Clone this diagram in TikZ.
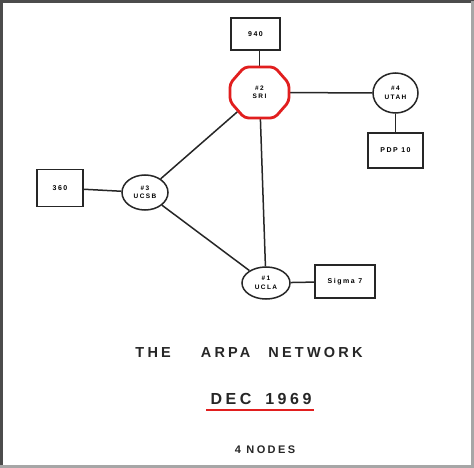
\documentclass[tikz,border=0pt]{standalone}
\usepackage{fontspec}
\newfontfamily\hand[LetterSpace=22]{Liberation Sans}
\usetikzlibrary{shapes.geometric,backgrounds}
\definecolor{inkred}{RGB}{225,30,30}
\begin{document}
\begin{tikzpicture}[x=1pt,y=-1pt,
  ink/.style={line width=1.5pt, draw=black!85},
  hostbox/.style={ink, rectangle, inner sep=0pt, fill=white, font=\hand\bfseries\fontsize{7}{8}\selectfont},
  imp/.style={ink, ellipse, inner sep=0pt, fill=white, align=center, font=\hand\bfseries\fontsize{6.5}{8.5}\selectfont},
  link/.style={ink},
  title/.style={font=\hand\bfseries\fontsize{16}{16}\selectfont, text=black!85, inner sep=0pt}]
\useasboundingbox (0,0) rectangle (474,468);
\begin{scope}[on background layer]
  \fill[white] (0,0) rectangle (474,468);
\end{scope}
% frame
\draw[black!70, line width=3pt] (1.5,468) -- (1.5,1.5) -- (474,1.5);
\draw[black!35, line width=2.5pt] (472.7,1.5) -- (472.7,466.7) -- (0,466.7);
% SRI octagon
\begin{scope}[shift={(259.5,92.5)}]
  \draw[inkred, line width=2.8pt, fill=white, rounded corners=4pt]
    (-15,-25.5) -- (15,-25.5) -- (29.5,-9) -- (29.5,9) -- (15,25.5) -- (-15,25.5) -- (-29.5,9) -- (-29.5,-9) -- cycle;
\end{scope}
% nodes
\node[hostbox, minimum width=49pt, minimum height=32pt] (h940) at (255.5,34) {940};
\node[ellipse, inner sep=0pt, minimum width=59pt, minimum height=51pt, align=center, font=\hand\bfseries\fontsize{6.5}{8.5}\selectfont] (sri) at (259.5,92.5) {\#2\\SRI};
\node[imp, minimum width=45pt, minimum height=40pt] (utah) at (395.5,93) {\#4\\UTAH};
\node[hostbox, minimum width=55pt, minimum height=35pt] (pdp) at (395.5,150.5) {PDP 10};
\node[hostbox, minimum width=46pt, minimum height=37pt] (h360) at (60,188) {360};
\node[imp, minimum width=46pt, minimum height=35pt] (ucsb) at (145,192.5) {\#3\\UCSB};
\node[imp, minimum width=48pt, minimum height=32pt] (ucla) at (266,283) {\#1\\UCLA};
\node[hostbox, minimum width=60pt, minimum height=33pt] (sigma) at (345,281.5) {Sigma 7};
% links
\begin{scope}[on background layer]
  \draw[link] (sri.north) -- (sri.north |- h940.south);
  \draw[link] (sri) -- (utah);
  \draw[link] (utah) -- (pdp);
  \draw[link] (h360) -- (ucsb);
  \draw[link] (ucsb) -- (sri);
  \draw[link] (ucsb) -- (ucla);
  \draw[link] (ucla) -- (sri);
  \draw[link] (ucla) -- (sigma);
\end{scope}
% titles
\node[title, font=\hand\bfseries\fontsize{14.5}{14.5}\selectfont] (t1) at (249,353) {THE\hspace{30pt}ARPA\hspace{18pt}NETWORK};
\node[title] (t2) at (261,399) {DEC\hspace{14pt}1969};
\draw[inkred, line width=1.6pt] (t2.south west) ++(-4,5) coordinate (u1) -- ([shift={(2,5)}]t2.south east) coordinate (u2);
\node[title, font=\hand\bfseries\fontsize{11}{11}\selectfont] (t3) at (265,450) {4 NODES};
\end{tikzpicture}
\end{document}
